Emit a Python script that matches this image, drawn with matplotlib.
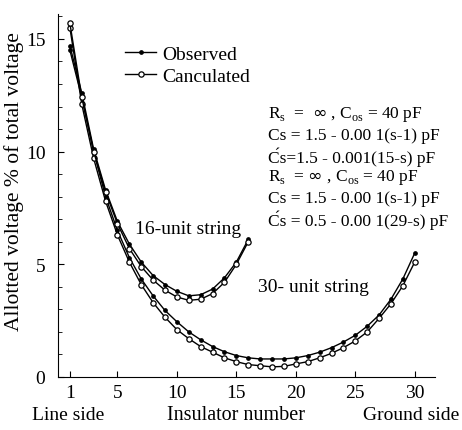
import matplotlib
matplotlib.use("Agg")
import matplotlib.pyplot as plt
from matplotlib.ticker import MultipleLocator

plt.rcParams["font.family"] = ["Liberation Serif", "DejaVu Serif"]

# insulator positions
units16 = list(range(1, 17))
units30 = list(range(1, 31))

# % of total voltage across each unit
obs16 = [14.7, 12.6, 10.1, 8.3, 6.9, 5.9, 5.1, 4.5, 4.1, 3.8, 3.6, 3.65, 3.9, 4.4, 5.1, 6.1]
calc16 = [15.7, 12.4, 10.0, 8.2, 6.8, 5.7, 4.9, 4.3, 3.85, 3.55, 3.4, 3.45, 3.7, 4.2, 5.0, 6.0]
obs30 = [14.5, 12.4, 10.0, 8.0, 6.5, 5.3, 4.35, 3.6, 2.95, 2.45, 2.0, 1.65, 1.35, 1.12, 0.95,
         0.85, 0.8, 0.8, 0.8, 0.85, 0.95, 1.1, 1.3, 1.55, 1.85, 2.25, 2.75, 3.45, 4.35, 5.5]
calc30 = [15.5, 12.1, 9.7, 7.8, 6.3, 5.1, 4.1, 3.3, 2.65, 2.1, 1.7, 1.35, 1.1, 0.85, 0.68,
          0.55, 0.5, 0.45, 0.47, 0.58, 0.68, 0.85, 1.05, 1.3, 1.6, 2.0, 2.6, 3.25, 4.05, 5.1]

xticks = [1, 5, 10, 15, 20, 25, 30]
yticks = [0, 5, 10, 15]

params = [
    r"R$_\mathregular{s}$  =  $\infty$ , C$_\mathregular{os}$ = 40 pF",
    "Cs = 1.5 - 0.00 1(s-1) pF",
    "C\u0301s=1.5 - 0.001(15-s) pF",
    r"R$_\mathregular{s}$  = $\infty$ , C$_\mathregular{os}$ = 40 pF",
    "Cs = 1.5 - 0.00 1(s-1) pF",
    "C\u0301s = 0.5 - 0.00 1(29-s) pF",
]

fig = plt.figure(figsize=(4.62, 4.31), dpi=100)
ax = fig.add_axes([0.1255, 0.123, 0.816, 0.842])

obs_style = dict(color="black", lw=1.0, marker="o", ms=2.4, mfc="black", mec="black")
calc_style = dict(color="black", lw=1.0, marker="o", ms=3.8, mfc="white", mec="black", mew=0.9)

ax.plot(units30, obs30, **obs_style, label="Observed")
ax.plot(units30, calc30, **calc_style, label="Canculated")
ax.plot(units16, obs16, **obs_style)
ax.plot(units16, calc16, **calc_style)

ax.set_xlim(0, 31.7)
ax.set_ylim(0, 16.1)
ax.set_xticks(xticks)
ax.set_yticks(yticks)
ax.yaxis.set_minor_locator(MultipleLocator(1))
ax.tick_params(which="both", direction="in", labelsize=14)
ax.tick_params(which="major", length=4)
ax.tick_params(which="minor", length=3)
ax.tick_params(axis="x", pad=5)
ax.tick_params(axis="y", pad=9)
for s in ("top", "right"):
    ax.spines[s].set_visible(False)

fig.text(0.031, 0.578, "Allotted voltage % of total voltage", fontsize=15.5, rotation=90,
         ha="center", va="center")
fig.text(0.511, 0.037, "Insulator number", fontsize=14.5, ha="center", va="center")
fig.text(0.147, 0.037, "Line side", fontsize=14, ha="center", va="center")
fig.text(0.89, 0.037, "Ground side", fontsize=14, ha="center", va="center")

ax.legend(loc="upper left", bbox_to_anchor=(0.178, 0.915), frameon=False, fontsize=14,
          handlelength=1.6, handletextpad=0.3, labelspacing=0.25, borderaxespad=0,
          borderpad=0)

ax.text(10.9, 6.6, "16-unit string", fontsize=14, ha="center", va="center")
ax.text(21.5, 4.0, "30- unit string", fontsize=14, ha="center", va="center")

for i, line in enumerate(params):
    fig.text(0.58, 1 - (115 + 21 * i) / 431, line, fontsize=12.5,
             ha="left", va="center")

fig.savefig("out.png", dpi=100)
